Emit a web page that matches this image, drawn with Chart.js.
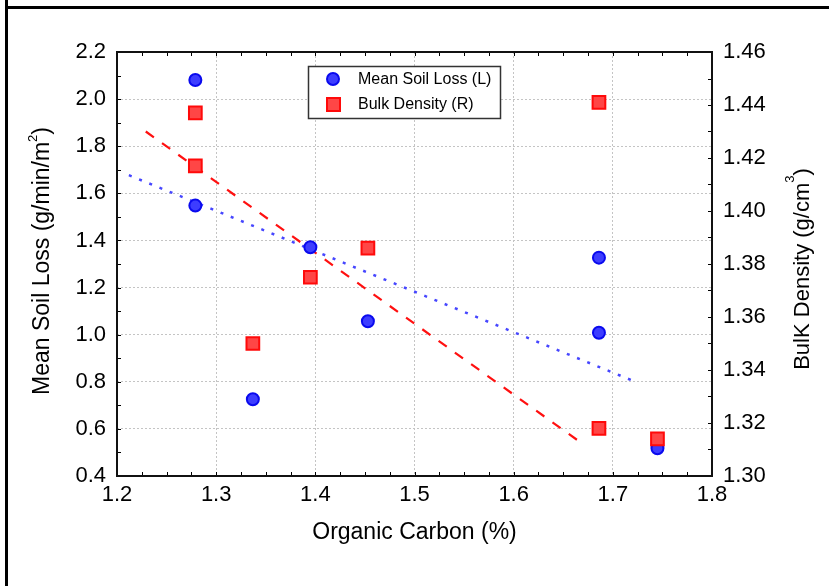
<!DOCTYPE html>
<html>
<head>
<meta charset="utf-8">
<script src="https://cdn.jsdelivr.net/npm/chart.js@4.4.0/dist/chart.umd.min.js"></script>
<style>
  html, body { margin: 0; padding: 0; background: #fff; }
  #contenedor { position: relative; width: 829px; height: 586px; overflow: hidden; }
  #grafico { display: block; }
  .bordeIzq { position: absolute; left: 5px; top: 0; width: 3px; height: 586px; background: #000; }
  .bordeSup { position: absolute; left: 5px; top: 6px; width: 824px; height: 3px; background: #000; }
</style>
</head>
<body>
<div id="contenedor">
  <canvas id="grafico" width="829" height="586"></canvas>
  <div class="bordeIzq"></div>
  <div class="bordeSup"></div>
</div>
<script>
// ================= DATOS =================
const carbonoPerdida = [1.279, 1.279, 1.337, 1.395, 1.453, 1.686, 1.686, 1.745];
const perdidaSuelo   = [2.081, 1.548, 0.726, 1.371, 1.057, 1.327, 1.008, 0.518];

const carbonoDensidad = [1.279, 1.279, 1.337, 1.395, 1.453, 1.686, 1.686, 1.745];
const densidadAparente = [1.437, 1.417, 1.350, 1.375, 1.386, 1.441, 1.318, 1.314];

// tendencias (extremos de cada recta)
const tendPerdidaX = [1.212, 1.721];
const tendPerdidaY = [1.677, 0.803];
const tendDensidadX = [1.229, 1.670];
const tendDensidadY = [1.430, 1.312];

// marcas de los ejes
const ticksX   = [1.2, 1.3, 1.4, 1.5, 1.6, 1.7, 1.8];
const ticksIzq = [0.4, 0.6, 0.8, 1.0, 1.2, 1.4, 1.6, 1.8, 2.0, 2.2];
const ticksDer = [1.30, 1.32, 1.34, 1.36, 1.38, 1.40, 1.42, 1.44, 1.46];

const etiquetaPerdida = "Mean Soil Loss (L)";
const etiquetaDensidad = "Bulk Density (R)";

// ================= ESTILOS =================
const FUENTE = "Arial, 'Liberation Sans', sans-serif";
const azulRelleno = "#3d3dff", azulBorde = "#0a0aee";
const rojoRelleno = "#ff4646", rojoBorde = "#ff0a0a";

function puntos(xs, ys) {
  return xs.map((x, i) => ({ x, y: ys[i] }));
}

// ================= TITULOS VERTICALES =================
function tituloVertical(ctx, xBase, yCentro, antes, sup, despues, tam, subir) {
  ctx.save();
  ctx.translate(xBase, yCentro);
  ctx.rotate(-Math.PI / 2);
  ctx.fillStyle = "#000";
  ctx.textBaseline = "alphabetic";
  ctx.textAlign = "left";
  const f1 = tam + "px " + FUENTE;
  const f2 = "13px " + FUENTE;
  ctx.font = f1;
  const w1 = ctx.measureText(antes).width;
  const w3 = ctx.measureText(despues).width;
  ctx.font = f2;
  const w2 = ctx.measureText(sup).width;
  let x = -(w1 + w2 + w3) / 2;
  ctx.font = f1; ctx.fillText(antes, x, 0); x += w1;
  ctx.font = f2; ctx.fillText(sup, x, -subir); x += w2;
  ctx.font = f1; ctx.fillText(despues, x, 0);
  ctx.restore();
}

// ================= MARCO, MARCAS Y LEYENDA =================
function marcasEje(ctx, escala, min, max, paso, vertical, a, largo) {
  const n = Math.round((max - min) / paso);
  for (let i = 0; i <= n; i++) {
    const p = Math.round(escala.getPixelForValue(min + i * paso)) + 0.5;
    if (vertical === "izq") { ctx.moveTo(a.left, p); ctx.lineTo(a.left + largo, p); }
    else if (vertical === "der") { ctx.moveTo(a.right, p); ctx.lineTo(a.right - largo, p); }
    else {
      ctx.moveTo(p, a.bottom); ctx.lineTo(p, a.bottom - largo);
      ctx.moveTo(p, a.top); ctx.lineTo(p, a.top + largo);
    }
  }
}

const pluginMarco = {
  id: "marco",
  afterDatasetsDraw(chart) {
    const { ctx, chartArea: a, scales } = chart;
    ctx.save();
    ctx.strokeStyle = "#000";
    ctx.lineWidth = 1;
    ctx.beginPath();
    marcasEje(ctx, scales.x, 1.2, 1.8, 0.025, "x", a, 4);
    marcasEje(ctx, scales.y, 0.4, 2.2, 0.1, "izq", a, 4);
    marcasEje(ctx, scales.y1, 1.30, 1.46, 0.01, "der", a, 4);
    ctx.stroke();
    ctx.lineWidth = 2;
    ctx.strokeStyle = "#111";
    ctx.strokeRect(a.left, a.top, a.right - a.left, a.bottom - a.top);

    // leyenda
    const lx = 308.5, ly = 66.5, lw = 192, lh = 52;
    ctx.fillStyle = "#fff";
    ctx.fillRect(lx, ly, lw, lh);
    ctx.lineWidth = 1.5;
    ctx.strokeStyle = "#333";
    ctx.strokeRect(lx, ly, lw, lh);

    ctx.beginPath();
    ctx.arc(333, 79, 6, 0, Math.PI * 2);
    ctx.fillStyle = azulRelleno; ctx.fill();
    ctx.lineWidth = 2; ctx.strokeStyle = azulBorde; ctx.stroke();

    ctx.fillStyle = rojoRelleno;
    ctx.fillRect(327, 98, 13, 13);
    ctx.strokeStyle = rojoBorde;
    ctx.strokeRect(327, 98, 13, 13);

    ctx.fillStyle = "#000";
    ctx.font = "16px " + FUENTE;
    ctx.textBaseline = "middle";
    ctx.textAlign = "left";
    ctx.fillText(etiquetaPerdida, 358, 80);
    ctx.fillText(etiquetaDensidad, 358, 105);

    // titulos de los ejes Y
    tituloVertical(ctx, 49, 261, "Mean Soil Loss (g/min/m", "2", ")", 23, 12);
    tituloVertical(ctx, 809, 269, "BulK Density (g/cm", "3", ")", 22, 15);
    ctx.restore();
  }
};

// ================= GRAFICO =================
Chart.defaults.font.family = FUENTE;
Chart.defaults.color = "#000";

new Chart(document.getElementById("grafico").getContext("2d"), {
  type: "scatter",
  data: {
    datasets: [
      {
        label: "tendencia perdida",
        data: puntos(tendPerdidaX, tendPerdidaY),
        showLine: true,
        borderColor: "#4646ff",
        borderWidth: 2.5,
        borderDash: [3, 8],
        pointRadius: 0,
        yAxisID: "y",
        order: 3
      },
      {
        label: "tendencia densidad",
        data: puntos(tendDensidadX, tendDensidadY),
        showLine: true,
        borderColor: "#ff1010",
        borderWidth: 2.2,
        borderDash: [10, 10],
        pointRadius: 0,
        yAxisID: "y1",
        order: 2
      },
      {
        label: etiquetaPerdida,
        data: puntos(carbonoPerdida, perdidaSuelo),
        pointStyle: "circle",
        pointRadius: 6,
        backgroundColor: azulRelleno,
        borderColor: azulBorde,
        borderWidth: 2,
        yAxisID: "y",
        order: 1
      },
      {
        label: etiquetaDensidad,
        data: puntos(carbonoDensidad, densidadAparente),
        pointStyle: "rect",
        pointRadius: 9,
        backgroundColor: rojoRelleno,
        borderColor: rojoBorde,
        borderWidth: 2,
        yAxisID: "y1",
        order: 0
      }
    ]
  },
  options: {
    responsive: false,
    animation: false,
    events: [],
    layout: { padding: { top: 52, left: 0, right: 0, bottom: 0 } },
    plugins: { legend: { display: false }, tooltip: { enabled: false } },
    scales: {
      x: {
        type: "linear",
        min: 1.2, max: 1.8,
        afterBuildTicks: (eje) => { eje.ticks = ticksX.map(v => ({ value: v })); },
        afterFit: (eje) => { eje.height = 110; },
        ticks: { font: { size: 22 }, padding: 6, callback: v => v.toFixed(1) },
        grid: { color: "#c4c4c4", lineWidth: 1, drawTicks: false },
        border: { display: false, dash: [2, 2] },
        title: { display: true, text: "Organic Carbon (%)", font: { size: 23 }, padding: { top: 0, bottom: 40 } }
      },
      y: {
        type: "linear",
        position: "left",
        min: 0.4, max: 2.2,
        afterBuildTicks: (eje) => { eje.ticks = ticksIzq.map(v => ({ value: v })); },
        afterFit: (eje) => { eje.width = 117; },
        ticks: { font: { size: 22 }, padding: 11, callback: v => v.toFixed(1) },
        grid: { color: "#c4c4c4", lineWidth: 1, drawTicks: false },
        border: { display: false, dash: [2, 2] }
      },
      y1: {
        type: "linear",
        position: "right",
        min: 1.30, max: 1.46,
        afterBuildTicks: (eje) => { eje.ticks = ticksDer.map(v => ({ value: v })); },
        afterFit: (eje) => { eje.width = 117; },
        ticks: { font: { size: 22 }, padding: 11, callback: v => v.toFixed(2) },
        grid: { display: false, drawTicks: false },
        border: { display: false }
      }
    }
  },
  plugins: [pluginMarco]
});
</script>
</body>
</html>
